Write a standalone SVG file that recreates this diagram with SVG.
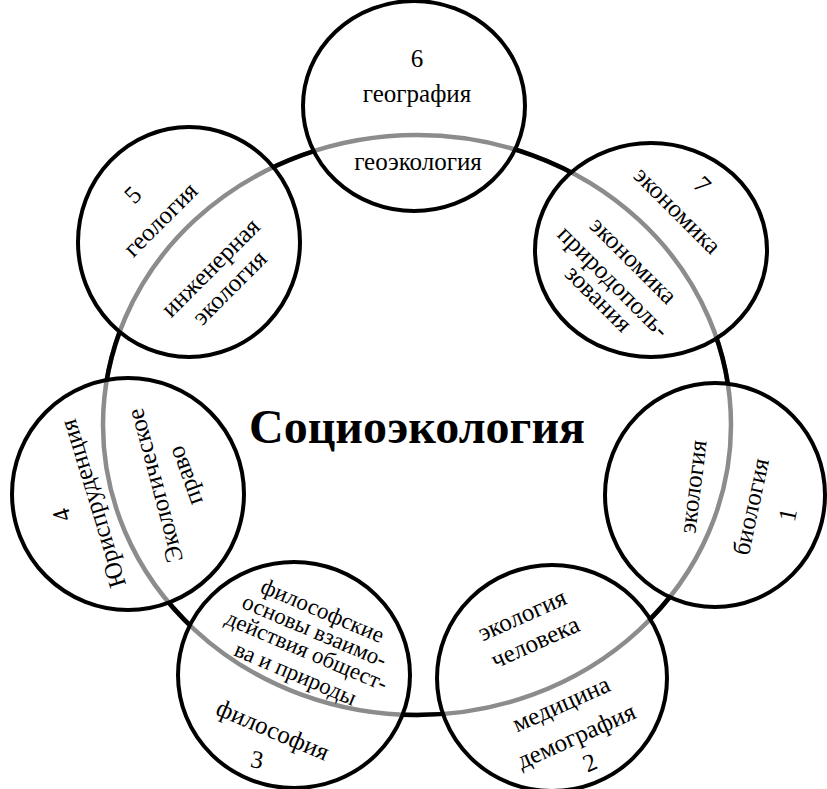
<svg xmlns="http://www.w3.org/2000/svg" width="827" height="789" viewBox="0 0 827 789">
<style>
.c{fill:none;stroke:#000;stroke-width:4}
.t{font-family:"Liberation Serif","Times New Roman",serif;font-size:25px;fill:#000;text-anchor:middle}
.s{font-size:23px}
.title{font-family:"Liberation Serif","Times New Roman",serif;font-size:48px;font-weight:bold;fill:#000;text-anchor:middle}
</style>
<defs>
<mask id="outside" maskUnits="userSpaceOnUse" x="0" y="0" width="827" height="789">
<rect width="827" height="789" fill="#fff"/>
<ellipse cx="715" cy="495" rx="110" ry="112" fill="#000"/>
<ellipse cx="552" cy="678" rx="115" ry="113" fill="#000"/>
<ellipse cx="294" cy="675" rx="116" ry="113" fill="#000"/>
<ellipse cx="128" cy="494" rx="116" ry="116" fill="#000"/>
<ellipse cx="189" cy="242" rx="111" ry="115" fill="#000"/>
<ellipse cx="414" cy="106" rx="111" ry="105" fill="#000"/>
<ellipse cx="651" cy="250" rx="116" ry="107" fill="#000"/>
</mask>
</defs>
<rect width="827" height="789" fill="#fff"/>
<g id="center">
<ellipse cx="417" cy="425" rx="314" ry="290" fill="none" stroke="#8c8c8c" stroke-width="4.5"/>
<ellipse cx="417" cy="425" rx="314" ry="290" fill="none" stroke="#000" stroke-width="4.5" mask="url(#outside)"/>
<text class="title" x="417" y="443">Социоэкология</text>
</g>
<g id="node1">
<ellipse class="c" cx="715" cy="495" rx="110" ry="112"/>
<text class="t" transform="translate(695,487) rotate(-83)" y="6">экология</text>
<text class="t" transform="translate(753,507) rotate(-78)" y="6">биология</text>
<text class="t" transform="translate(788,515) rotate(-78)" y="8">1</text>
</g>
<g id="node2">
<ellipse class="c" cx="552" cy="678" rx="115" ry="113"/>
<text class="t" transform="translate(523,617) rotate(-24)" y="6">экология</text>
<text class="t" transform="translate(536,644) rotate(-24)" y="6">человека</text>
<text class="t" transform="translate(562,706) rotate(-24)" y="6">медицина</text>
<text class="t" transform="translate(577,738) rotate(-24)" y="6">демография</text>
<text class="t" transform="translate(590,763) rotate(-24)" y="8">2</text>
</g>
<g id="node3">
<ellipse class="c" cx="294" cy="675" rx="116" ry="113"/>
<text class="t s" transform="translate(322,612) rotate(23)" y="6">философские</text>
<text class="t s" transform="translate(314,632) rotate(23)" y="6">основы взаимо-</text>
<text class="t s" transform="translate(306,652) rotate(23)" y="6">действия общест-</text>
<text class="t s" transform="translate(295,675) rotate(23)" y="6">ва и природы</text>
<text class="t" transform="translate(272,732) rotate(23)" y="6">философия</text>
<text class="t" transform="translate(257,760) rotate(10)" y="8">3</text>
</g>
<g id="node4">
<ellipse class="c" cx="128" cy="494" rx="116" ry="116"/>
<text class="t" transform="translate(62,515) rotate(-107)" y="8">4</text>
<text class="t" transform="translate(95,503) rotate(-107)" y="6">Юриспруденция</text>
<text class="t" transform="translate(157,485) rotate(-105)" y="6">Экологическое</text>
<text class="t" transform="translate(187,475) rotate(-110)" y="6">право</text>
</g>
<g id="node5">
<ellipse class="c" cx="189" cy="242" rx="111" ry="115"/>
<text class="t" transform="translate(133,195) rotate(-45)" y="8">5</text>
<text class="t" transform="translate(162,221) rotate(-45)" y="6">геология</text>
<text class="t" transform="translate(212,269) rotate(-45)" y="6">инженерная</text>
<text class="t" transform="translate(231,289) rotate(-45)" y="6">экология</text>
</g>
<g id="node6">
<ellipse class="c" cx="414" cy="106" rx="111" ry="105"/>
<text class="t" x="417" y="67">6</text>
<text class="t" x="417" y="102">география</text>
<text class="t" x="418" y="170">геоэкология</text>
</g>
<g id="node7">
<ellipse class="c" cx="651" cy="250" rx="116" ry="107"/>
<text class="t" transform="translate(702,185) rotate(45)" y="8">7</text>
<text class="t" transform="translate(676,212) rotate(45)" y="6">экономика</text>
<text class="t" transform="translate(632,262) rotate(45)" y="6">экономика</text>
<text class="t" transform="translate(612,283) rotate(45)" y="6">природополь-</text>
<text class="t" transform="translate(597,300) rotate(45)" y="6">зования</text>
</g>
</svg>
